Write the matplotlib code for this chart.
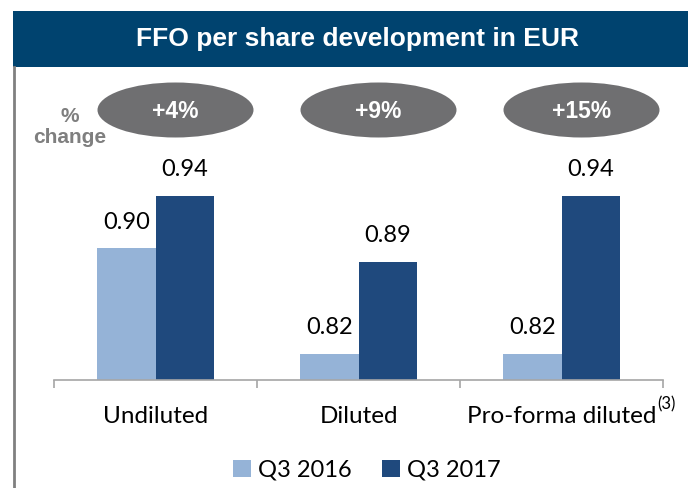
import numpy as np
import matplotlib.pyplot as plt
from matplotlib.patches import Ellipse, Rectangle
from matplotlib.lines import Line2D
from matplotlib.transforms import blended_transform_factory

categories = ['Undiluted', 'Diluted', 'Pro-forma diluted']
q3_2016 = [0.90, 0.82, 0.82]
q3_2017 = [0.94, 0.89, 0.94]
changes = ['+4%', '+9%', '+15%']
series_names = ['Q3 2016', 'Q3 2017']

light = '#95B3D7'
dark = '#1F497D'
grey = '#7F7F7F'
navy = '#00436F'

W, H = 688, 488
fig = plt.figure(figsize=(W / 100, H / 100), dpi=100)

# main axes: baseline at y=380 px, categories 203 px apart starting at x=54
ax = fig.add_axes([54 / W, 1 - 380 / H, 609 / W, 231 / H])
ax.set_xlim(-0.5, 2.5)
ax.set_ylim(0.80, 0.80 + 231 / 1316)

x = np.arange(len(categories))
bw = 0.286
b1 = ax.bar(x - bw / 2, q3_2016, bw, bottom=0, color=light, label=series_names[0])
b2 = ax.bar(x + bw / 2, q3_2017, bw, bottom=0, color=dark, label=series_names[1])

for bars, vals in [(b1, q3_2016), (b2, q3_2017)]:
    for rect, v in zip(bars, vals):
        ax.annotate(f'{v:.2f}', (rect.get_x() + rect.get_width() / 2, v),
                    xytext=(0, 11), textcoords='offset points',
                    ha='center', va='bottom', fontsize=17, family='Lato')

for s in ['top', 'right', 'left']:
    ax.spines[s].set_visible(False)
ax.spines['bottom'].set_color('#A6A6A6')
ax.spines['bottom'].set_linewidth(1.2)
ax.set_yticks([])
ax.set_xticks(x)
ax.set_xticklabels(categories, fontsize=17.5, family='Lato')
ax.tick_params(axis='x', which='major', length=0, pad=19)
ax.set_xticks([-0.5, 0.5, 1.5, 2.5], minor=True)
ax.tick_params(axis='x', which='minor', length=6, color='#A6A6A6', width=1.2)

# footnote marker after the last category label
fig.text(657 / W, 1 - 396 / H, '(3)', fontsize=12, family='Lato',
         ha='left', va='top')

# ellipses with % change, x in data coords, y in figure coords
tr = blended_transform_factory(ax.transData, fig.transFigure)
for i, c in enumerate(changes):
    cx = i + 20 / 203
    e = Ellipse((cx, 1 - 110 / H), 156 / 203, 55 / H, transform=tr,
                facecolor='#6F6F71', edgecolor='none', clip_on=False)
    ax.add_patch(e)
    ax.text(cx, 1 - 111 / H, c, transform=tr, ha='center', va='center',
            color='white', fontsize=16.5, fontweight='bold', family='Liberation Sans')

fig.text(70 / W, 1 - 127 / H, '%\nchange', ha='center', va='center', color=grey,
         fontsize=15, fontweight='bold', family='Liberation Sans', linespacing=1.1)

# title bar
fig.patches.append(Rectangle((13 / W, 1 - 67 / H), 1 - 13 / W, 56 / H,
                             transform=fig.transFigure, facecolor=navy, edgecolor='none'))
fig.text(357 / W, 1 - 39 / H, 'FFO per share development in EUR',
         ha='center', va='center', color='white', fontsize=19, fontweight='bold',
         family='Liberation Sans')
fig.lines.append(Line2D([14 / W, 14 / W], [0, 1 - 67 / H], transform=fig.transFigure,
                        color='#808080', linewidth=2))

fig.legend(handles=[b1, b2], labels=series_names, loc='center',
           bbox_to_anchor=(367 / W, 1 - 470 / H), ncol=2, frameon=False,
           prop={'family': 'Lato', 'size': 17}, handlelength=0.75, handleheight=0.75,
           handletextpad=0.3, columnspacing=1.3)

fig.savefig('out.png', dpi=100)
